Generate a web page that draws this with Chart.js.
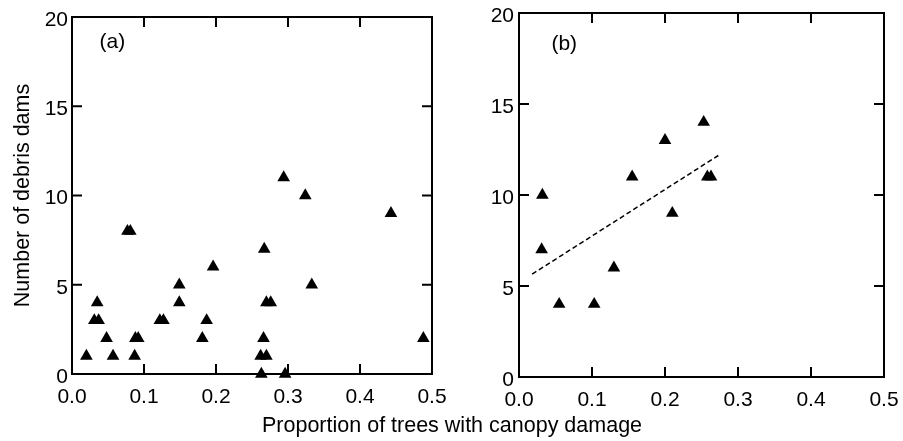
<!DOCTYPE html>
<html lang="en">
<head>
    <meta charset="UTF-8">
    <title>Debris dams vs canopy damage</title>
    <style>
        * {
            margin: 0;
            padding: 0;
            box-sizing: border-box;
        }

        body {
            width: 903px;
            height: 441px;
            background: #fff;
            position: relative;
            overflow: hidden;
            font-family: 'Liberation Sans', Arial, sans-serif;
        }

        .panel {
            position: absolute;
            top: 0;
            height: 441px;
        }

        #panelA {
            left: 0;
            width: 450px;
        }

        #panelB {
            left: 450px;
            width: 453px;
        }

        .x-title {
            position: absolute;
            left: 262px;
            top: 413px;
            font-size: 21.5px;
            color: #000;
            white-space: nowrap;
        }
    </style>
</head>
<body>
    <div class="panel" id="panelA"><canvas id="chartA" width="450" height="441"></canvas></div>
    <div class="panel" id="panelB"><canvas id="chartB" width="453" height="441"></canvas></div>
    <div class="x-title">Proportion of trees with canopy damage</div>

    <script src="https://cdn.jsdelivr.net/npm/chart.js"></script>
    <script>
        // Panel (a) points
        var damageA = [0.020, 0.031, 0.037, 0.035, 0.048, 0.057, 0.077, 0.081, 0.087, 0.088, 0.092,
                       0.122, 0.127, 0.149, 0.149, 0.181, 0.187, 0.196, 0.263, 0.266, 0.262, 0.270,
                       0.267, 0.270, 0.276, 0.294, 0.296, 0.324, 0.333, 0.443, 0.488];
        var damsA   = [1, 3, 3, 4, 2, 1, 8, 8, 1, 2, 2,
                       3, 3, 5, 4, 2, 3, 6, 0, 2, 1, 1,
                       7, 4, 4, 11, 0, 10, 5, 9, 2];

        // Panel (b) points
        var damageB = [0.032, 0.031, 0.055, 0.103, 0.130, 0.155, 0.200, 0.210, 0.253, 0.258, 0.263];
        var damsB   = [10, 7, 4, 4, 6, 11, 13, 9, 14, 11, 11];

        // Panel (b) fitted line ends
        var fitX = [0.018, 0.273];
        var fitY = [5.65, 12.17];

        var xTicks = [0.0, 0.1, 0.2, 0.3, 0.4, 0.5];
        var yTicks = [0, 5, 10, 15, 20];
        var panelLabels = ['(a)', '(b)'];

        var FONT = "'Liberation Sans', Arial, sans-serif";

        function toPoints(xs, ys) {
            return xs.map(function (x, i) { return { x: x, y: ys[i] }; });
        }

        // box round the plot plus short inward ticks on all four sides
        var frame = {
            id: 'frame',
            afterDraw: function (chart, args, opts) {
                var ctx = chart.ctx;
                var a = chart.chartArea;
                var xs = chart.scales.x, ys = chart.scales.y;
                ctx.save();
                ctx.strokeStyle = '#000';
                ctx.lineWidth = 2;
                ctx.strokeRect(a.left, a.top, a.right - a.left, a.bottom - a.top);
                ctx.beginPath();
                xTicks.slice(1, -1).forEach(function (v) {
                    var px = xs.getPixelForValue(v);
                    ctx.moveTo(px, a.bottom); ctx.lineTo(px, a.bottom - 10);
                    ctx.moveTo(px, a.top); ctx.lineTo(px, a.top + 10);
                });
                yTicks.slice(1, -1).forEach(function (v) {
                    var py = ys.getPixelForValue(v);
                    ctx.moveTo(a.left, py); ctx.lineTo(a.left + 10, py);
                    ctx.moveTo(a.right, py); ctx.lineTo(a.right - 10, py);
                });
                ctx.stroke();
                // panel letter
                ctx.fillStyle = '#000';
                ctx.font = '21px ' + FONT;
                ctx.textAlign = 'center';
                ctx.textBaseline = 'middle';
                ctx.fillText(opts.label, xs.getPixelForValue(opts.labelX), ys.getPixelForValue(opts.labelY));
                ctx.restore();
            }
        };

        function makeOptions(cfg) {
            return {
                responsive: false,
                animation: false,
                layout: { padding: { left: 0, right: cfg.padRight, top: cfg.padTop, bottom: 0 } },
                plugins: {
                    legend: { display: false },
                    tooltip: { enabled: false },
                    frame: { label: cfg.label, labelX: cfg.labelX, labelY: cfg.labelY }
                },
                scales: {
                    x: {
                        type: 'linear',
                        min: 0,
                        max: 0.5,
                        afterBuildTicks: function (s) { s.ticks = xTicks.map(function (v) { return { value: v }; }); },
                        afterFit: function (s) {
                            s.height = cfg.xHeight;
                            s.paddingLeft = 0;
                            s.paddingRight = 0;
                        },
                        grid: { display: false, drawTicks: false },
                        border: { display: false },
                        ticks: {
                            padding: 11,
                            maxRotation: 0,
                            color: '#000',
                            font: { family: FONT, size: 21 },
                            callback: function (v) { return Number(v).toFixed(1); }
                        }
                    },
                    y: {
                        type: 'linear',
                        min: 0,
                        max: 20,
                        afterBuildTicks: function (s) { s.ticks = yTicks.map(function (v) { return { value: v }; }); },
                        afterFit: function (s) {
                            s.width = cfg.yWidth;
                            s.paddingTop = 0;
                            s.paddingBottom = 0;
                        },
                        grid: { display: false, drawTicks: false },
                        border: { display: false },
                        title: {
                            display: cfg.yTitle !== '',
                            text: cfg.yTitle,
                            color: '#000',
                            font: { family: FONT, size: 21.5 },
                            padding: { top: 10, bottom: 0 }
                        },
                        ticks: {
                            padding: cfg.yPad,
                            labelOffset: 3,
                            color: '#000',
                            font: { family: FONT, size: 21 }
                        }
                    }
                }
            };
        }

        var markerStyle = {
            pointStyle: 'triangle',
            pointRadius: 7.3,
            backgroundColor: '#000',
            borderColor: '#000',
            borderWidth: 0,
            clip: false
        };

        new Chart(document.getElementById('chartA'), {
            type: 'scatter',
            data: {
                datasets: [Object.assign({ label: 'a', data: toPoints(damageA, damsA) }, markerStyle)]
            },
            options: makeOptions({ padRight: 18, padTop: 17, xHeight: 67, yWidth: 72, yPad: 4,
                                   yTitle: 'Number of debris dams', label: panelLabels[0],
                                   labelX: 0.056, labelY: 18.6 }),
            plugins: [frame]
        });

        new Chart(document.getElementById('chartB'), {
            type: 'scatter',
            data: {
                datasets: [
                    Object.assign({ label: 'b', data: toPoints(damageB, damsB) }, markerStyle),
                    {
                        type: 'line',
                        label: 'fit',
                        data: toPoints(fitX, fitY),
                        borderColor: '#000',
                        borderWidth: 1.5,
                        borderDash: [5, 3],
                        pointRadius: 0,
                        fill: false
                    }
                ]
            },
            options: makeOptions({ padRight: 19, padTop: 13, xHeight: 64, yWidth: 69, yPad: 5,
                                   yTitle: '', label: panelLabels[1],
                                   labelX: 0.062, labelY: 18.3 }),
            plugins: [frame]
        });
    </script>
</body>
</html>
